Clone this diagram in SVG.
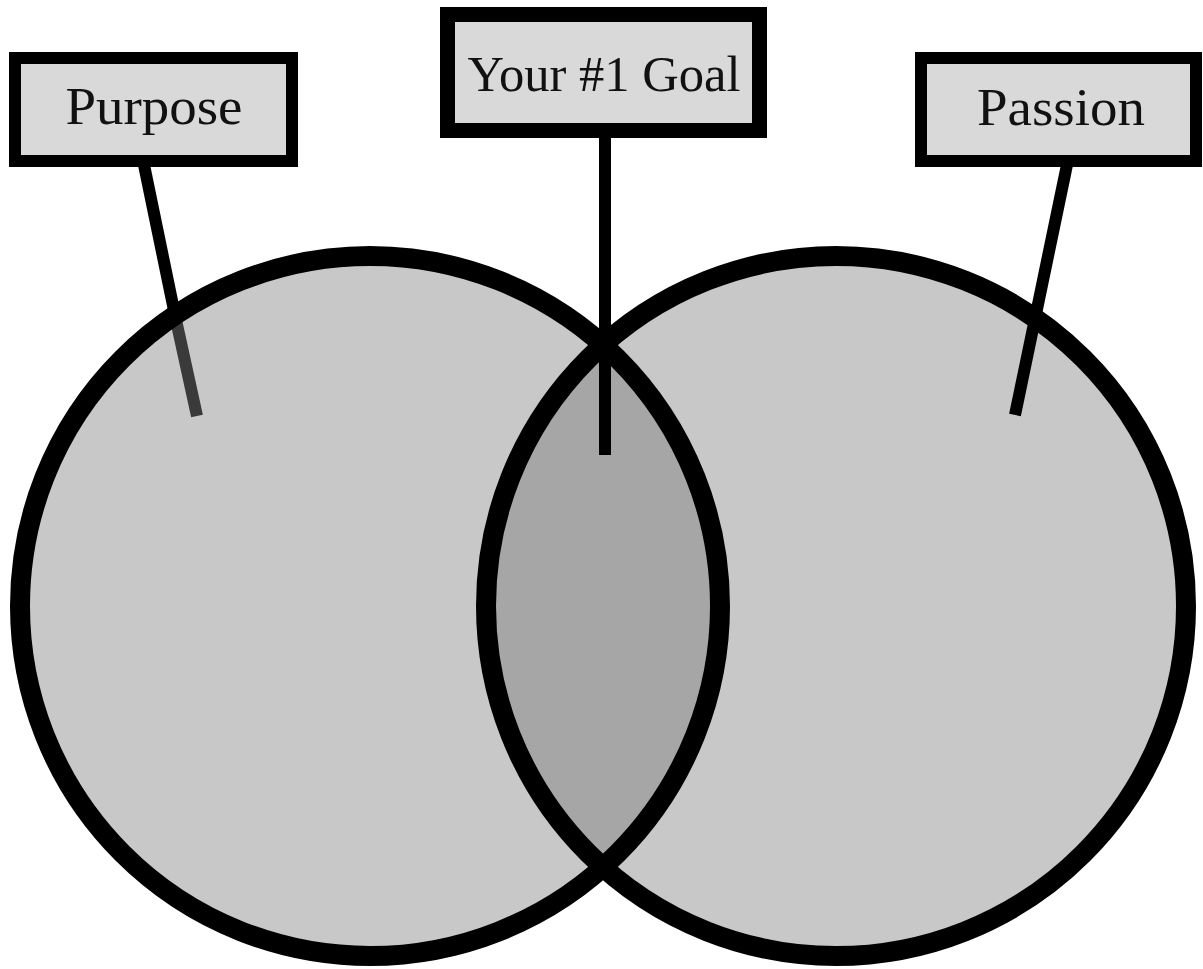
<svg xmlns="http://www.w3.org/2000/svg" width="1203" height="969" viewBox="0 0 1203 969">
<style>
.circle{fill:#c8c8c8;stroke:none}
.ring{fill:none;stroke:#000;stroke-width:20}
.lens{fill:#a6a6a6}
.box{fill:#d9d9d9;stroke:#000;stroke-width:12}
.lbl{font-family:"Liberation Serif","Times New Roman",serif;fill:#111;text-anchor:middle}
.conn{stroke:#000;stroke-width:12;fill:none}
</style>
<defs>
<clipPath id="clipL"><circle cx="370" cy="606" r="350"/></clipPath>
</defs>
<rect width="1203" height="969" fill="#fff"/>
<g id="circles">
<circle class="circle" cx="370" cy="606" r="350"/>
<circle class="circle" cx="836" cy="606" r="350"/>
<circle class="lens" cx="836" cy="606" r="350" clip-path="url(#clipL)"/>
</g>
<g id="connectors">
<line class="conn" x1="143" y1="160" x2="176" y2="320"/>
<line class="conn" x1="176" y1="320" x2="197" y2="416" style="stroke:#3a3a3a"/>
<line class="conn" x1="605" y1="136" x2="605" y2="455"/>
<line class="conn" x1="1068" y1="160" x2="1015" y2="415"/>
</g>
<g id="rings">
<circle class="ring" cx="370" cy="606" r="350"/>
<circle class="ring" cx="836" cy="606" r="350"/>
</g>
<line class="conn" x1="605" y1="320" x2="605" y2="380"/>
<g id="purpose">
<rect class="box" x="15" y="58" width="277" height="103"/>
<text class="lbl" x="154" y="124" font-size="52" textLength="177" lengthAdjust="spacingAndGlyphs">Purpose</text>
</g>
<g id="goal">
<rect class="box" x="447.5" y="14.5" width="312" height="116" style="stroke-width:15"/>
<text class="lbl" x="604" y="91" font-size="50" textLength="273" lengthAdjust="spacingAndGlyphs">Your #1 Goal</text>
</g>
<g id="passion">
<rect class="box" x="921" y="58" width="275" height="103"/>
<text class="lbl" x="1061" y="125" font-size="52" textLength="168" lengthAdjust="spacingAndGlyphs">Passion</text>
</g>
</svg>
